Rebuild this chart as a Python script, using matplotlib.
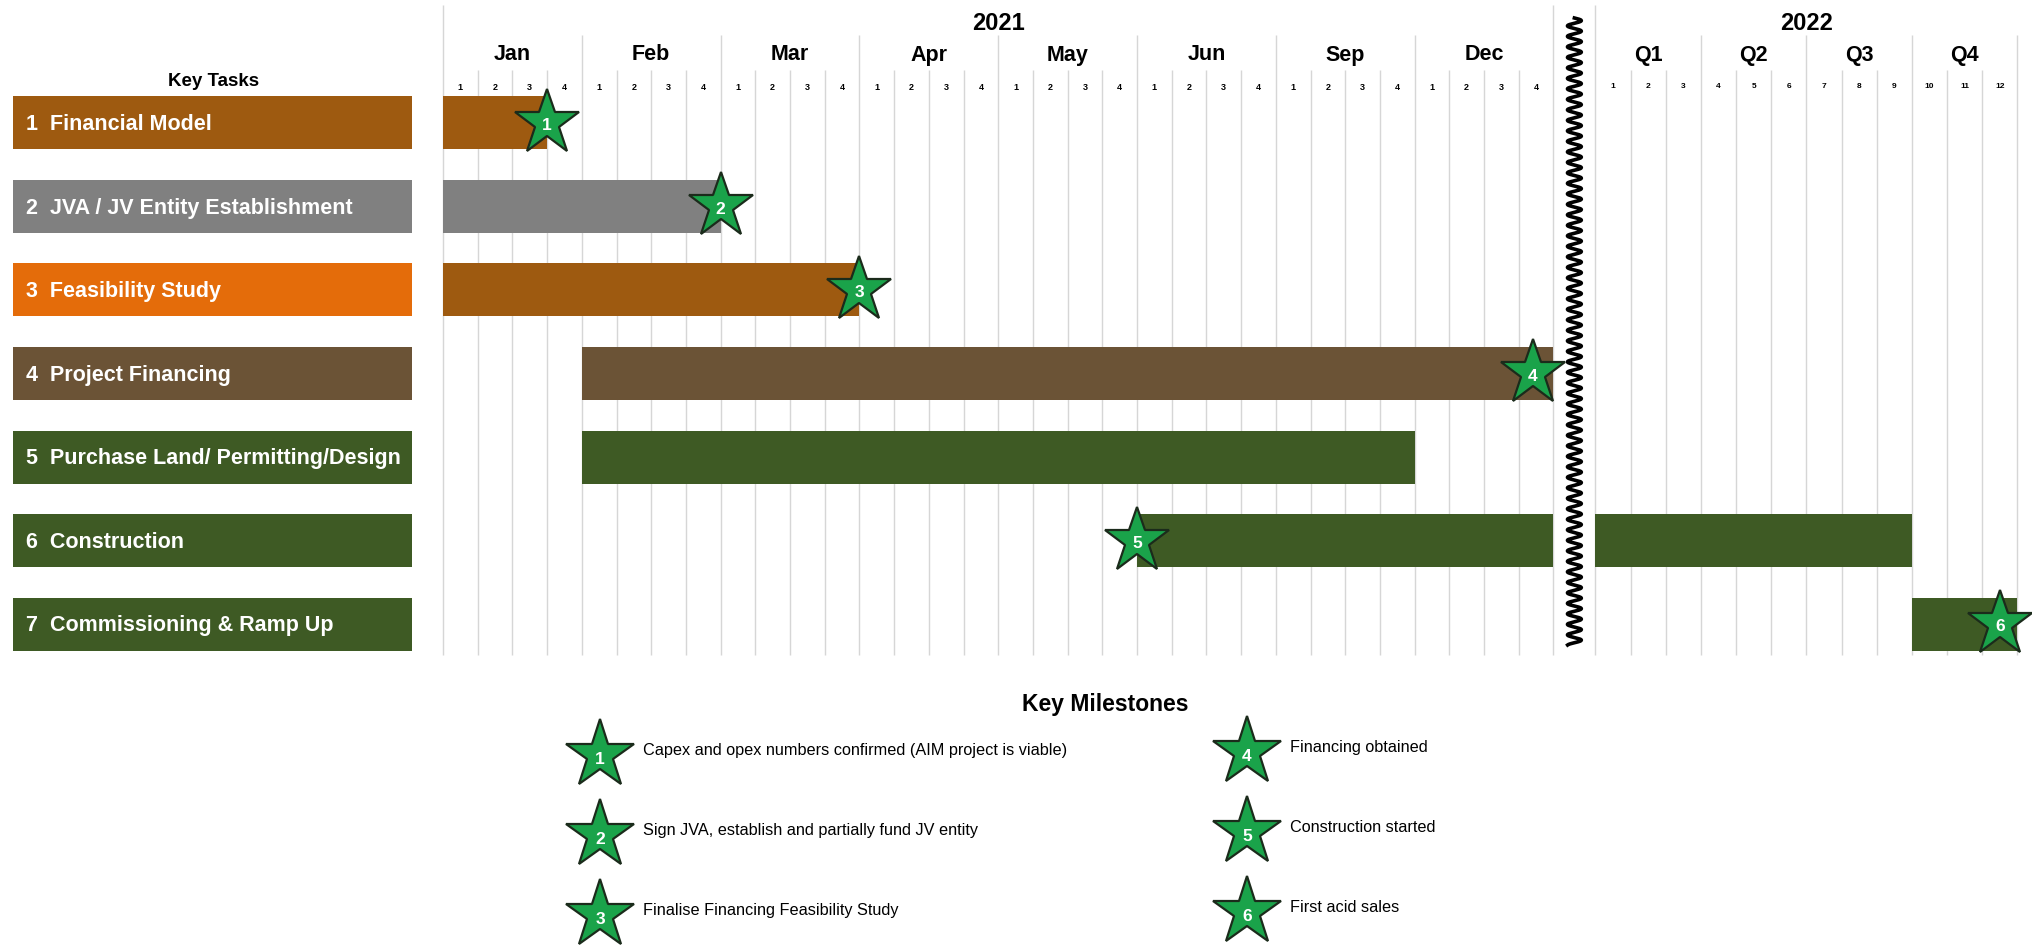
import numpy as np
import matplotlib.pyplot as plt

# taille de l'image de reference
W, H, DPI = 2032, 946, 100

# ---- donnees ----
tasks = ["1  Financial Model", "2  JVA / JV Entity Establishment", "3  Feasibility Study",
         "4  Project Financing", "5  Purchase Land/ Permitting/Design", "6  Construction",
         "7  Commissioning & Ramp Up"]
label_colors = ["#9E5A10", "#808080", "#E46C0A", "#6B5336", "#3E5A24", "#3E5A24", "#3E5A24"]
bar_colors = ["#9E5A10", "#808080", "#9E5A10", "#6B5336", "#3E5A24", "#3E5A24", "#3E5A24"]

# 2021 en semaines (0-32), 2022 en mois (0-12)
start_2021 = [0, 0, 0, 4, 4, 20, None]
end_2021 = [3, 8, 12, 32, 28, 32, None]
start_2022 = [None, None, None, None, None, 0, 9]
end_2022 = [None, None, None, None, None, 9, 12]

months_2021 = ["Jan", "Feb", "Mar", "Apr", "May", "Jun", "Sep", "Dec"]
quarters_2022 = ["Q1", "Q2", "Q3", "Q4"]
weeks_per_month = 4
months_per_quarter = 3

milestone_ids = [1, 2, 3, 4, 5, 6]
milestone_row = [0, 1, 2, 3, 5, 6]
milestone_year = [2021, 2021, 2021, 2021, 2021, 2022]
milestone_pos = [3, 8, 12, 31.4, 20, 11.5]
milestone_text = ["Capex and opex numbers confirmed (AIM project is viable)",
                  "Sign JVA, establish and partially fund JV entity",
                  "Finalise Financing Feasibility Study",
                  "Financing obtained",
                  "Construction started",
                  "First acid sales"]

plt.rcParams['font.family'] = ['Liberation Sans', 'DejaVu Sans']

STAR_GREEN = "#1AA34A"
STAR_EDGE = "#1B2B1B"
GRID = "#D6D6D6"

# ---- mise en page (colonnes / lignes) ----
COL = 34.7          # px par semaine
MONTH22 = 1.0135    # largeur d'un mois 2022 en colonnes
ROW = 83.5          # px par ligne
X0, Y0 = 443, 123   # debut du planning / centre de la 1ere ligne
n_weeks = len(months_2021) * weeks_per_month
n_months = len(quarters_2022) * months_per_quarter
GAP_END = n_weeks + 1.21


def x22(m):
    return GAP_END + m * MONTH22


def px2y(p):
    return (p - Y0) / ROW


fig = plt.figure(figsize=(W / DPI, H / DPI), dpi=DPI)
ax = fig.add_axes([0, 0, 1, 1])
ax.set_xlim(-X0 / COL, (W - X0) / COL)
ax.set_ylim(px2y(H), px2y(0))
ax.axis("off")

y_bottom = px2y(655)
y_year, y_month, y_week = px2y(5), px2y(35), px2y(70)

# lignes verticales 2021
for w in range(n_weeks + 1):
    if w in (0, n_weeks):
        top = y_year
    elif w % weeks_per_month == 0:
        top = y_month
    else:
        top = y_week
    ax.vlines(w, top, y_bottom, color=GRID, lw=1, zorder=0)
# lignes verticales 2022
for m in range(n_months + 1):
    if m == 0:
        top = y_year
    elif m % months_per_quarter == 0:
        top = y_month
    else:
        top = y_week
    ax.vlines(x22(m), top, y_bottom, color=GRID, lw=1, zorder=0)

# entetes
ax.text(n_weeks / 2, px2y(23), "2021", ha="center", va="center", fontsize=17, fontweight="bold")
ax.text(x22(n_months / 2), px2y(23), "2022", ha="center", va="center", fontsize=17, fontweight="bold")
for i, mname in enumerate(months_2021):
    ax.text((i + 0.5) * weeks_per_month, px2y(55), mname, ha="center", va="center",
            fontsize=15.5, fontweight="bold")
    for w in range(weeks_per_month):
        ax.text(i * weeks_per_month + w + 0.5, px2y(87), str(w + 1), ha="center", va="center",
                fontsize=6.5, fontweight="bold")
for i, q in enumerate(quarters_2022):
    ax.text(x22((i + 0.5) * months_per_quarter), px2y(55), q, ha="center", va="center",
            fontsize=15.5, fontweight="bold")
for m in range(n_months):
    ax.text(x22(m + 0.5), px2y(87), str(m + 1), ha="center", va="center", fontsize=6, fontweight="bold")

ax.text((214 - X0) / COL, px2y(82), "Key Tasks", ha="center", va="center", fontsize=13.5, fontweight="bold")

# cases des taches a gauche
rows = np.arange(len(tasks))
box_l, box_r = (13 - X0) / COL, (412 - X0) / COL
bh = 53 / ROW
ax.barh(rows, box_r - box_l, left=box_l, height=bh, color=label_colors, zorder=2)
for r, t in zip(rows, tasks):
    ax.text((26 - X0) / COL, r + 0.02, t, color="white", ha="left", va="center",
            fontsize=15.5, fontweight="bold", zorder=3)

# barres du planning
for r in rows:
    if start_2021[r] is not None:
        ax.barh(r, end_2021[r] - start_2021[r], left=start_2021[r], height=bh,
                color=bar_colors[r], zorder=2)
    if start_2022[r] is not None:
        ax.barh(r, (end_2022[r] - start_2022[r]) * MONTH22, left=x22(start_2022[r]), height=bh,
                color=bar_colors[r], zorder=2)

# ligne de coupure ondulee
yy = np.linspace(px2y(18), px2y(645), 3000)
xx = (n_weeks + GAP_END) / 2 + 0.2 * np.sin(2 * np.pi * (yy - yy[0]) / (10.5 / ROW))
ax.plot(xx, yy, color="black", lw=2.6, zorder=3)

# jalons
for mid, r, yr, p in zip(milestone_ids, milestone_row, milestone_year, milestone_pos):
    x = p if yr == 2021 else x22(p)
    ax.plot(x, r, marker="*", ms=49, mfc=STAR_GREEN, mec=STAR_EDGE, mew=1.6, zorder=4)
    ax.text(x, r + 0.03, str(mid), color="white", ha="center", va="center",
            fontsize=12.5, fontweight="bold", zorder=5)

# ---- legende des jalons ----
lax = fig.add_axes([0, 0, 1, 1])
lax.set_xlim(0, W)
lax.set_ylim(H, 0)
lax.axis("off")
lax.text(1105, 704, "Key Milestones", ha="center", va="center", fontsize=16.5, fontweight="bold")
col_x = [600, 1247]
col_y0 = [755, 752]
dy = 80
for i, (mid, txt) in enumerate(zip(milestone_ids, milestone_text)):
    c = i // 3
    j = i % 3
    sx, sy = col_x[c], col_y0[c] + j * dy
    lax.plot(sx, sy, marker="*", ms=52, mfc=STAR_GREEN, mec=STAR_EDGE, mew=1.6)
    lax.text(sx, sy + 4, str(mid), color="white", ha="center", va="center",
             fontsize=12.5, fontweight="bold")
    lax.text(sx + 43, sy - 5, txt, ha="left", va="center", fontsize=11.7)

fig.savefig("out.png", dpi=DPI)
